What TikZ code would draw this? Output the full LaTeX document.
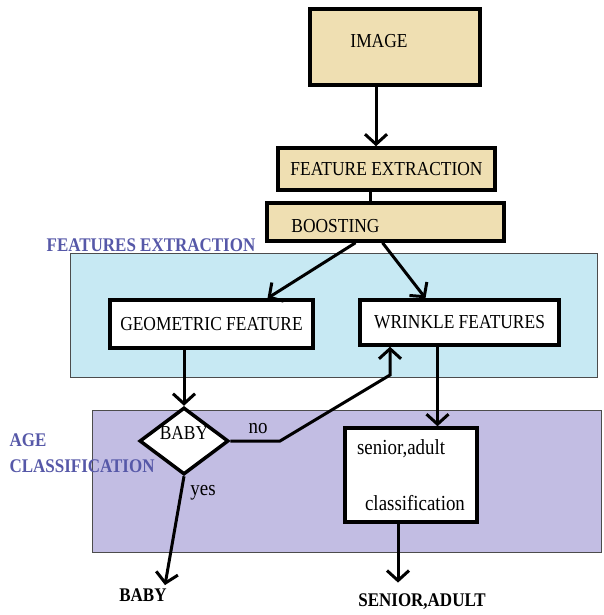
\documentclass[tikz,border=0pt]{standalone}
\usepackage{fontspec}
\setmainfont{Liberation Serif}[FakeStretch=0.88]
\usetikzlibrary{arrows.meta,calc,positioning,shapes.geometric}
\definecolor{Tan}{HTML}{EFDFB2}
\definecolor{Sky}{HTML}{C7E9F3}
\definecolor{Lilac}{HTML}{C2BDE3}
\definecolor{Ink}{HTML}{5658A8}

\begin{document}
\begin{tikzpicture}[x=1pt,y=-1pt,
    box/.style={draw,line width=3.5pt,inner sep=0pt,font=\fontsize{19.8}{23}\selectfont},
    tanbox/.style={box,fill=Tan},
    whitebox/.style={box,fill=white},
    band/.style={draw=black!70,line width=.8pt},
    bandlbl/.style={Ink,font=\bfseries\fontsize{19.3}{26}\selectfont},
    txt/.style={font=\fontsize{21.5}{25}\selectfont},
    outlbl/.style={font=\bfseries\fontsize{19.3}{23}\selectfont},
    flow/.style={line width=3pt,-{Straight Barb[length=10pt,width=22pt]}}]
        \useasboundingbox(0,0)rectangle(603,615);
        \fill[white](0,0)rectangle(603,615);
        \draw[band,fill=Sky](70,253)rectangle(597,377);
        \draw[band,fill=Lilac](92,410)rectangle(601,552);
        \node[bandlbl](featlbl)at(151,245){FEATURES EXTRACTION};
        \node[bandlbl,align=left,anchor=west](agelbl)at(6,453){AGE\\CLASSIFICATION};
        \node[tanbox,minimum width=170pt,minimum height=76pt,label={[xshift=-16pt,yshift=6pt,font=\fontsize{19.8}{23}\selectfont]center:IMAGE}](img)at(395,47){};
        \node[tanbox,minimum width=217pt,minimum height=42pt](fe)at(386.5,169){FEATURE EXTRACTION};
        \node[tanbox,minimum width=237pt,minimum height=38pt,label={[xshift=-50pt,yshift=-4pt,font=\fontsize{19.8}{23}\selectfont]center:BOOSTING}](boost)at(385.5,222){};
        \node[whitebox,minimum width=203pt,minimum height=48pt](geo)at(211.5,324){GEOMETRIC FEATURE};
        \node[whitebox,minimum width=199pt,minimum height=45pt](wri)at(459.5,322.5){WRINKLE FEATURES};
        \node[whitebox,diamond,minimum width=89pt,minimum height=67pt,label={[yshift=8pt,font=\fontsize{19.8}{23}\selectfont]center:BABY}](baby)at(184,441){};
        \node[whitebox,minimum width=132pt,minimum height=94pt,align=left,font=\fontsize{21.5}{25}\selectfont](sen)at(411,475){senior,adult\\[31pt]\hspace{8pt}classification};
        \node[outlbl](babylbl)at(143,595){BABY};
        \node[outlbl](senlbl)at(422,602){SENIOR,ADULT};
        \coordinate(nobend)at(280,441);
        \coordinate(noup)at(390,375);
        \draw[flow]([xshift=-19pt]img.south)--([xshift=-19pt]img.south|-fe.north);
        \draw[line width=3pt]([xshift=-16pt]fe.south)--([xshift=-16pt]fe.south|-boost.north);
        \draw[flow]([xshift=-30pt]boost.south)--([xshift=56pt]geo.north);
        \draw[flow]([xshift=-3pt]boost.south)--([xshift=-34pt]wri.north);
        \draw[flow](geo.south-|baby.north)--(baby.north);
        \draw[flow](baby.east)--(nobend)--(noup)--(noup|-wri.south);
        \draw[flow]([xshift=-22pt]wri.south)--([xshift=-22pt]wri.south|-sen.north);
        \draw[flow]([xshift=-13pt]sen.south)--([xshift=-13pt,yshift=8pt]sen.south|-senlbl.north);
        \draw[flow](baby.south)--([xshift=22pt]babylbl.north);
        \node[txt](nolbl)at(258,429){no};
        \node[txt](yeslbl)at(203,493){yes};
      \end{tikzpicture}
\end{document}
